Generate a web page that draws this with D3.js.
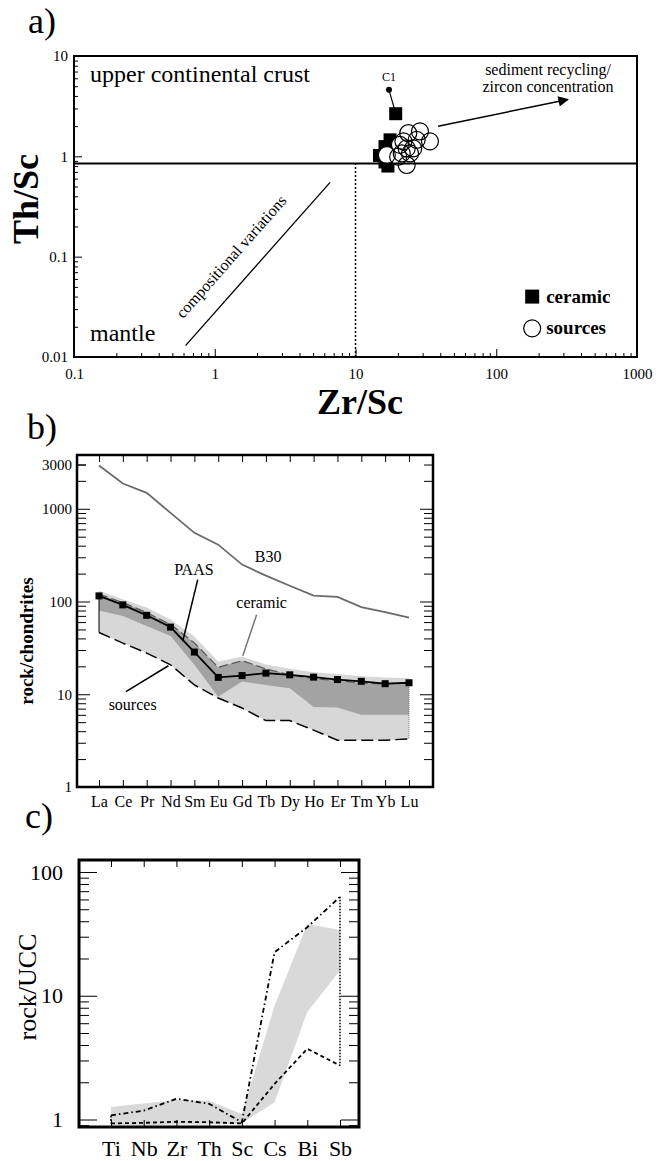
<!DOCTYPE html>
<html>
<head>
<meta charset="utf-8">
<script src="https://cdn.jsdelivr.net/npm/d3@7"></script>
<style>
  body { margin: 0; background: #fff; }
</style>
</head>
<body>
<svg id="chart" width="656" height="1161"></svg>
<script>
// ---------- panel a: Th/Sc vs Zr/Sc ----------
var ceramicZr = [19.3, 17.6, 16.2, 14.8, 16.2, 19.1, 17.0];
var ceramicTh = [2.66, 1.46, 1.25, 1.02, 0.88, 1.20, 0.80];
var sourceZr = [23.7, 28.7, 33.8, 27.2, 21.9, 20.7, 23.1, 25.7, 21.3, 24.4, 16.7, 23.1, 20.1];
var sourceTh = [1.70, 1.77, 1.41, 1.46, 1.41, 1.30, 1.20, 1.20, 1.07, 1.07, 1.03, 0.82, 0.99];
var c1Point = [17.3, 4.6];
var uccThSc = 0.85;
var zrScLimit = 10;
var xTicksA = [0.1, 1, 10, 100, 1000];
var yTicksA = [0.01, 0.1, 1, 10];

// ---------- panel b: REE / chondrites ----------
var ree = ["La", "Ce", "Pr", "Nd", "Sm", "Eu", "Gd", "Tb", "Dy", "Ho", "Er", "Tm", "Yb", "Lu"];
var b30 = [2930, 1870, 1485, 903, 550, 410, 250, 190, 148, 116, 112, 87, 77, 67];
var paas = [115, 92, 71, 53, 28.5, 15.2, 15.9, 16.9, 16.2, 15.3, 14.4, 13.8, 13.0, 13.3];
var sourcesHigh = [131, 106, 86, 64, 42, 22.6, 25.6, 20.9, 18.8, 17.3, 16.5, 15.6, 15.2, 14.9];
var sourcesLow = [46.4, 35.6, 27.8, 20.8, 12.6, 9.1, 7.1, 5.2, 5.2, 4.1, 3.2, 3.2, 3.2, 3.3];
var ceramicHigh = [120, 97.5, 75.9, 56.7, 35.8, 19.5, 23, 18.8, 16.2, 14.7, 14, 13.2, 12.9, 13.2];
var ceramicLow = [80, 69.8, 54.5, 42.4, 20.8, 9.4, 13.7, 12.6, 11.6, 7.3, 7.2, 6.0, 6.0, 6.0];
var yTicksB = [1, 10, 100, 1000, 3000];

// ---------- panel c: rock / UCC ----------
var traceEls = ["Ti", "Nb", "Zr", "Th", "Sc", "Cs", "Bi", "Sb"];
var bandHigh = [1.26, 1.35, 1.44, 1.42, 1.11, 8.3, 38, 34];
var bandLow = [0.9, 0.9, 0.91, 0.91, 0.93, 1.38, 7.4, 16];
var maxLine = [1.08, 1.18, 1.47, 1.34, 0.95, 22.5, 35.8, 63];
var minLine = [0.93, 0.94, 0.96, 0.95, 0.93, 1.94, 3.73, 2.73];
var yTicksC = [1, 10, 100];

var serif = '"Liberation Serif", "Times New Roman", Times, "DejaVu Serif", serif';
var svg = d3.select('#chart');
var isMajor = function(d) { return Math.abs(Math.log10(d) - Math.round(Math.log10(d))) < 1e-9; };

function styleAxis(g, size) {
    g.select('.domain').remove();
    g.attr('font-family', null).attr('font-size', null);
    g.selectAll('line').attr('stroke', '#000').attr('stroke-width', 1);
    g.selectAll('text').style('font-size', size + 'px').attr('fill', '#000');
}

function panelLabel(text, x, y) {
    svg.append('text').attr('x', x).attr('y', y).style('font-size', '36px').text(text);
}

// ================= PANEL A =================
var ax = d3.scaleLog().domain([0.1, 1000]).range([74, 637]),
    ay = d3.scaleLog().domain([0.01, 10]).range([357, 56]);
var ga = svg.append('g');

ga.append('g').attr('transform', 'translate(0,357)')
    .call(d3.axisBottom(ax).tickValues(ax.ticks().filter(function(d) { return !isMajor(d); })).tickSize(-4).tickFormat(''))
    .call(styleAxis, 15);
ga.append('g').attr('transform', 'translate(0,357)')
    .call(d3.axisBottom(ax).tickValues(xTicksA).tickSize(-8).tickPadding(11).tickFormat(function(d) { return d; }))
    .call(styleAxis, 15);
ga.append('g').attr('transform', 'translate(74,0)')
    .call(d3.axisLeft(ay).tickValues(ay.ticks().filter(function(d) { return !isMajor(d); })).tickSize(-4).tickFormat(''))
    .call(styleAxis, 15);
ga.append('g').attr('transform', 'translate(74,0)')
    .call(d3.axisLeft(ay).tickValues(yTicksA).tickSize(-8).tickPadding(6).tickFormat(function(d) { return d; }))
    .call(styleAxis, 15);

// dotted Zr/Sc = 10 divider
ga.append('line')
    .attr('x1', ax(zrScLimit)).attr('x2', ax(zrScLimit))
    .attr('y1', ay(0.01)).attr('y2', ay(uccThSc))
    .attr('stroke', '#000').attr('stroke-width', 1.5).attr('stroke-dasharray', '2,2');

// compositional variations trend
ga.append('line')
    .attr('x1', ax(0.62)).attr('y1', ay(0.013)).attr('x2', ax(6.6)).attr('y2', ay(0.55))
    .attr('stroke', '#000').attr('stroke-width', 1.3);
var angle = Math.atan2(ay(0.55) - ay(0.013), ax(6.6) - ax(0.62)) * 180 / Math.PI;
ga.append('text')
    .attr('transform', 'translate(' + (ax(1.7) - 12) + ',' + (ay(0.07) - 12) + ') rotate(' + angle + ')')
    .attr('text-anchor', 'middle').style('font-size', '16px')
    .text('compositional variations');

// area labels
ga.append('text').attr('x', ax(0.13)).attr('y', ay(5.5)).style('font-size', '24px').text('upper continental crust');
ga.append('text').attr('x', ax(0.13)).attr('y', ay(0.0145)).style('font-size', '24px').text('mantle');

// C1 tie line and dot
ga.append('line')
    .attr('x1', ax(c1Point[0])).attr('y1', ay(c1Point[1]))
    .attr('x2', ax(ceramicZr[0])).attr('y2', ay(ceramicTh[0]))
    .attr('stroke', '#000').attr('stroke-width', 1.2);
ga.append('circle').attr('cx', ax(c1Point[0])).attr('cy', ay(c1Point[1])).attr('r', 3).attr('fill', '#000');
ga.append('text').attr('x', ax(c1Point[0]) - 7).attr('y', ay(c1Point[1]) - 9).style('font-size', '12px').text('C1');

// ceramic squares
ga.selectAll('.sq').data(ceramicZr).join('rect').attr('class', 'sq')
    .attr('x', function(d) { return ax(d) - 6.5; })
    .attr('y', function(d, i) { return ay(ceramicTh[i]) - 6.5; })
    .attr('width', 13).attr('height', 13).attr('fill', '#000');

// source circles: white fills first, then outlines
ga.selectAll('.cf').data(sourceZr).join('circle').attr('class', 'cf')
    .attr('cx', function(d) { return ax(d); })
    .attr('cy', function(d, i) { return ay(sourceTh[i]); })
    .attr('r', 8.5).attr('fill', '#fff');

// UCC line
ga.append('line')
    .attr('x1', 74).attr('x2', 637).attr('y1', ay(uccThSc)).attr('y2', ay(uccThSc))
    .attr('stroke', '#000').attr('stroke-width', 2);

ga.selectAll('.co').data(sourceZr).join('circle').attr('class', 'co')
    .attr('cx', function(d) { return ax(d); })
    .attr('cy', function(d, i) { return ay(sourceTh[i]); })
    .attr('r', 8.5).attr('fill', 'none').attr('stroke', '#000').attr('stroke-width', 1.2);

// recycling arrow
svg.append('defs').append('marker').attr('id', 'arr')
    .attr('viewBox', '0 0 10 10').attr('refX', 9).attr('refY', 5)
    .attr('markerWidth', 9).attr('markerHeight', 7).attr('orient', 'auto')
    .append('path').attr('d', 'M0,0 L10,5 L0,10 z').attr('fill', '#000');
ga.append('line')
    .attr('x1', ax(38.6)).attr('y1', ay(1.99)).attr('x2', ax(323)).attr('y2', ay(3.69))
    .attr('stroke', '#000').attr('stroke-width', 1.5).attr('marker-end', 'url(#arr)');
ga.append('text').attr('x', 548).attr('y', ay(6.4)).attr('text-anchor', 'middle')
    .style('font-size', '16px').text('sediment recycling/');
ga.append('text').attr('x', 548).attr('y', ay(4.4)).attr('text-anchor', 'middle')
    .style('font-size', '16px').text('zircon concentration');

// legend
ga.append('rect').attr('x', ax(180) - 7).attr('y', ay(0.04) - 7).attr('width', 14).attr('height', 14).attr('fill', '#000');
ga.append('text').attr('x', ax(180) + 14).attr('y', ay(0.04) + 6).style('font-size', '19px').style('font-weight', 'bold').text('ceramic');
ga.append('circle').attr('cx', ax(180)).attr('cy', ay(0.0193)).attr('r', 8.5).attr('fill', 'none').attr('stroke', '#000').attr('stroke-width', 1.2);
ga.append('text').attr('x', ax(180) + 14).attr('y', ay(0.0193) + 6).style('font-size', '19px').style('font-weight', 'bold').text('sources');

// frame and titles
ga.append('rect').attr('x', 74).attr('y', 56).attr('width', 563).attr('height', 301)
    .attr('fill', 'none').attr('stroke', '#000').attr('stroke-width', 2);
ga.append('text').attr('transform', 'translate(38,199) rotate(-90)').attr('text-anchor', 'middle')
    .style('font-size', '36px').style('font-weight', 'bold').text('Th/Sc');
ga.append('text').attr('x', 360).attr('y', 414).attr('text-anchor', 'middle')
    .style('font-size', '36px').style('font-weight', 'bold').text('Zr/Sc');
panelLabel('a)', 28, 33);

// ================= PANEL B =================
var bx = d3.scaleLinear().domain([0, ree.length - 1]).range([99, 409]),
    by = d3.scaleLog().domain([1, 3800]).range([787, 455]);
var gb = svg.append('g');

var bandB = function(low, high) {
    return d3.area().x(function(d, i) { return bx(i); })
        .y0(function(d, i) { return by(low[i]); })
        .y1(function(d, i) { return by(high[i]); })(ree);
};
gb.append('path').attr('d', bandB(sourcesLow, sourcesHigh)).attr('fill', '#d7d7d7');
gb.append('path').attr('d', bandB(ceramicLow, ceramicHigh)).attr('fill', '#a3a3a3');

var lineB = d3.line().x(function(d, i) { return bx(i); }).y(function(d) { return by(d); });
gb.append('path').attr('d', lineB(ceramicHigh)).attr('fill', 'none')
    .attr('stroke', '#555').attr('stroke-width', 1.2).attr('stroke-dasharray', '9,4');
gb.append('path').attr('d', lineB(sourcesLow)).attr('fill', 'none')
    .attr('stroke', '#000').attr('stroke-width', 1.5).attr('stroke-dasharray', '12,5');
gb.append('line').attr('x1', bx(0)).attr('x2', bx(0)).attr('y1', by(paas[0])).attr('y2', by(sourcesLow[0]))
    .attr('stroke', '#000').attr('stroke-width', 1);
gb.append('line').attr('x1', bx(13)).attr('x2', bx(13)).attr('y1', by(ceramicHigh[13])).attr('y2', by(sourcesLow[13]))
    .attr('stroke', '#777').attr('stroke-width', 1).attr('stroke-dasharray', '1,1');
gb.append('path').attr('d', lineB(b30)).attr('fill', 'none').attr('stroke', '#6a6a6a').attr('stroke-width', 1.8);
gb.append('path').attr('d', lineB(paas)).attr('fill', 'none').attr('stroke', '#000').attr('stroke-width', 1.8);
gb.selectAll('.pm').data(paas).join('rect').attr('class', 'pm')
    .attr('x', function(d, i) { return bx(i) - 3.5; })
    .attr('y', function(d) { return by(d) - 3.5; })
    .attr('width', 7).attr('height', 7).attr('fill', '#000');

// annotations
gb.append('text').attr('x', bx(7.09)).attr('y', by(305) + 5).attr('text-anchor', 'middle').style('font-size', '16px').text('B30');
gb.append('text').attr('x', bx(3.98)).attr('y', by(220) + 5).attr('text-anchor', 'middle').style('font-size', '16px').text('PAAS');
gb.append('line').attr('x1', bx(4.14)).attr('y1', by(172)).attr('x2', bx(3.51)).attr('y2', by(37.1))
    .attr('stroke', '#000').attr('stroke-width', 1.5);
gb.append('text').attr('x', bx(6.82)).attr('y', by(96) + 5).attr('text-anchor', 'middle').style('font-size', '16px').text('ceramic');
gb.append('line').attr('x1', bx(6.61)).attr('y1', by(72)).attr('x2', bx(6.03)).attr('y2', by(26))
    .attr('stroke', '#777').attr('stroke-width', 1.5);
gb.append('text').attr('x', bx(1.41)).attr('y', by(7.7) + 5).attr('text-anchor', 'middle').style('font-size', '16px').text('sources');
gb.append('line').attr('x1', bx(1.13)).attr('y1', by(10.7)).attr('x2', bx(2.91)).attr('y2', by(20.3))
    .attr('stroke', '#000').attr('stroke-width', 1.5);

// axes
var minorB = by.ticks().filter(function(d) { return !isMajor(d); });
gb.append('g').attr('transform', 'translate(77,0)')
    .call(d3.axisLeft(by).tickValues(minorB).tickSize(-9).tickFormat(''))
    .call(styleAxis, 15);
gb.append('g').attr('transform', 'translate(77,0)')
    .call(d3.axisLeft(by).tickValues(yTicksB).tickSize(-13).tickPadding(5).tickFormat(function(d) { return d; }))
    .call(styleAxis, 15);
gb.selectAll('.tick line').filter(function(d) { return d === 3000; }).attr('x2', 9);
gb.append('g').attr('transform', 'translate(433,0)')
    .call(d3.axisRight(by).tickValues(minorB).tickSize(-9).tickFormat(''))
    .call(styleAxis, 15);
gb.append('g').attr('transform', 'translate(433,0)')
    .call(d3.axisRight(by).tickValues([1, 10, 100, 1000]).tickSize(-13).tickFormat(''))
    .call(styleAxis, 15);
gb.append('g').attr('transform', 'translate(0,787)')
    .call(d3.axisBottom(bx).tickValues(d3.range(ree.length)).tickSize(-7).tickPadding(9)
        .tickFormat(function(i) { return ree[i]; }))
    .call(styleAxis, 16);
gb.append('g').attr('transform', 'translate(0,455)')
    .call(d3.axisTop(bx).tickValues(d3.range(ree.length)).tickSize(-7).tickFormat(''))
    .call(styleAxis, 15);

gb.append('rect').attr('x', 77).attr('y', 455).attr('width', 356).attr('height', 332)
    .attr('fill', 'none').attr('stroke', '#000').attr('stroke-width', 2.5);
gb.append('text').attr('transform', 'translate(33,641) rotate(-90)').attr('text-anchor', 'middle')
    .style('font-size', '19px').style('font-weight', 'bold').text('rock/chondrites');
panelLabel('b)', 27, 439);

// ================= PANEL C =================
var cx = d3.scaleLinear().domain([0, traceEls.length - 1]).range([111, 340]),
    cy = d3.scaleLog().domain([0.87, 125]).range([1127, 860]);
var gc = svg.append('g');

gc.append('path')
    .attr('d', d3.area().x(function(d, i) { return cx(i); })
        .y0(function(d, i) { return cy(bandLow[i]); })
        .y1(function(d, i) { return cy(bandHigh[i]); })(traceEls))
    .attr('fill', '#d9d9d9');

var lineC = d3.line().x(function(d, i) { return cx(i); }).y(function(d) { return cy(d); });
gc.append('path').attr('d', lineC(maxLine)).attr('fill', 'none')
    .attr('stroke', '#000').attr('stroke-width', 1.8).attr('stroke-dasharray', '5,3,1.5,3');
gc.append('path').attr('d', lineC(minLine)).attr('fill', 'none')
    .attr('stroke', '#000').attr('stroke-width', 1.8).attr('stroke-dasharray', '4,3');
gc.append('line').attr('x1', cx(0)).attr('x2', cx(0)).attr('y1', cy(maxLine[0])).attr('y2', cy(minLine[0]))
    .attr('stroke', '#000').attr('stroke-width', 1.5).attr('stroke-dasharray', '2,1.5');
gc.append('line').attr('x1', cx(7)).attr('x2', cx(7)).attr('y1', cy(maxLine[7])).attr('y2', cy(minLine[7]))
    .attr('stroke', '#000').attr('stroke-width', 1.5).attr('stroke-dasharray', '1.5,1.5');

var minorC = cy.ticks().filter(function(d) { return !isMajor(d); });
gc.append('g').attr('transform', 'translate(79,0)')
    .call(d3.axisLeft(cy).tickValues(minorC).tickSize(-10).tickFormat(''))
    .call(styleAxis, 22);
gc.append('g').attr('transform', 'translate(79,0)')
    .call(d3.axisLeft(cy).tickValues(yTicksC).tickSize(-18).tickPadding(16).tickFormat(function(d) { return d; }))
    .call(styleAxis, 22);
gc.append('g').attr('transform', 'translate(359,0)')
    .call(d3.axisRight(cy).tickValues(minorC).tickSize(-10).tickFormat(''))
    .call(styleAxis, 22);
gc.append('g').attr('transform', 'translate(359,0)')
    .call(d3.axisRight(cy).tickValues(yTicksC).tickSize(-18).tickFormat(''))
    .call(styleAxis, 22);
gc.append('g').attr('transform', 'translate(0,1127)')
    .call(d3.axisBottom(cx).tickValues(d3.range(traceEls.length)).tickSize(-7).tickPadding(13)
        .tickFormat(function(i) { return traceEls[i]; }))
    .call(styleAxis, 22);
gc.append('g').attr('transform', 'translate(0,860)')
    .call(d3.axisTop(cx).tickValues(d3.range(traceEls.length)).tickSize(-7).tickFormat(''))
    .call(styleAxis, 22);

gc.append('rect').attr('x', 79).attr('y', 860).attr('width', 280).attr('height', 267)
    .attr('fill', 'none').attr('stroke', '#000').attr('stroke-width', 3);
gc.append('text').attr('transform', 'translate(36,987) rotate(-90)').attr('text-anchor', 'middle')
    .style('font-size', '26px').text('rock/UCC');
panelLabel('c)', 25, 828);

// serif type everywhere, like the original figure
svg.selectAll('text').style('font-family', serif);
</script>
</body>
</html>
